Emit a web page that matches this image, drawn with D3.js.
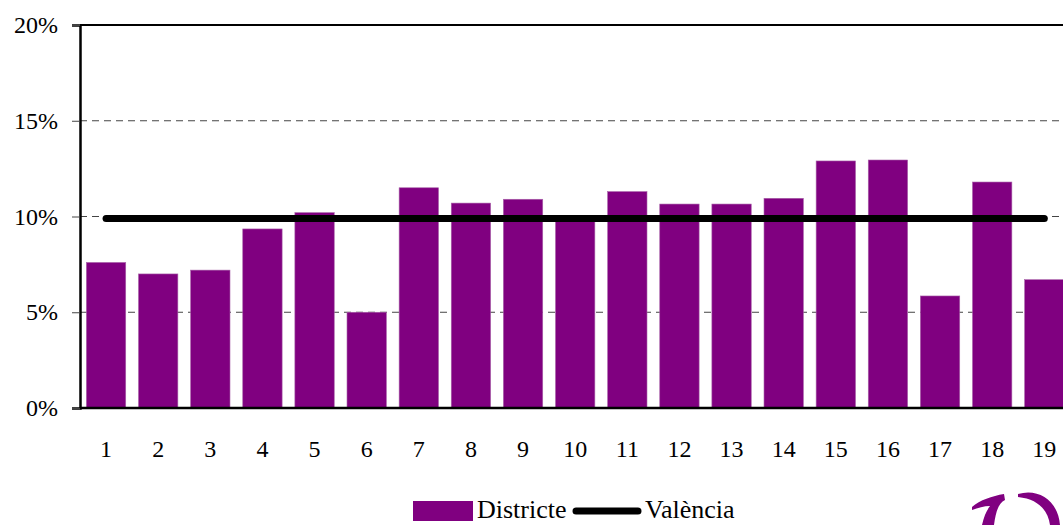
<!DOCTYPE html>
<html>
<head>
<meta charset="utf-8">
<script src="https://cdn.jsdelivr.net/npm/d3@7"></script>
<style>
  body { margin: 0; background: #fff; }
  svg { display: block; }
  text { font-family: "Liberation Serif", "Times New Roman", serif; fill: #000; }
</style>
</head>
<body>
<div id="graph"></div>
<script>
// data
var districts = ["1","2","3","4","5","6","7","8","9","10","11","12","13","14","15","16","17","18","19"];
var districtValues = [7.6, 7.0, 7.2, 9.35, 10.2, 5.0, 11.5, 10.7, 10.9, 10.0, 11.3, 10.65, 10.65, 10.95, 12.9, 12.95, 5.85, 11.8, 6.7];
var valenciaValue = 9.9;
var yTicks = [0, 5, 10, 15, 20];
var legendLabels = ["Districte", "València"];

var w = 1063, h = 525;
var vis = d3.select("#graph").append("svg").attr("width", w).attr("height", h);

var plotLeft = 80, plotTop = 25, plotBottom = 408;
var x = d3.scaleBand().domain(districts)
    .range([plotLeft, plotLeft + 19 * 52.125])
    .paddingInner(0.245).paddingOuter(0.1225);
var y = d3.scaleLinear().domain([0, 20]).range([plotBottom, plotTop]);

// gridlines (dashed)
vis.selectAll("line.grid")
   .data(yTicks.filter(d => d > 0 && d < 20))
   .enter().append("line")
   .attr("class", "grid")
   .attr("x1", plotLeft).attr("x2", w)
   .attr("y1", d => y(d)).attr("y2", d => y(d))
   .attr("stroke", "#444").attr("stroke-width", 1)
   .attr("stroke-dasharray", "7,5");

// bars
vis.selectAll("rect.bar")
   .data(districtValues)
   .enter().append("rect")
   .attr("class", "bar")
   .attr("x", (d, i) => x(districts[i]))
   .attr("width", x.bandwidth())
   .attr("y", d => y(d))
   .attr("height", d => plotBottom - y(d))
   .attr("fill", "#800080")
   .attr("stroke", "#a860a8").attr("stroke-width", 0.6);

// València line
var first = districts[0], last = districts[districts.length - 1];
vis.append("line")
   .attr("x1", x(first) + x.bandwidth() / 2)
   .attr("x2", x(last) + x.bandwidth() / 2)
   .attr("y1", y(valenciaValue)).attr("y2", y(valenciaValue))
   .attr("stroke", "#000").attr("stroke-width", 7)
   .attr("stroke-linecap", "round");

// frame: top and bottom
vis.append("line").attr("x1", plotLeft).attr("x2", w).attr("y1", plotTop).attr("y2", plotTop)
   .attr("stroke", "#000").attr("stroke-width", 2);
vis.append("line").attr("x1", plotLeft).attr("x2", w).attr("y1", plotBottom).attr("y2", plotBottom)
   .attr("stroke", "#000").attr("stroke-width", 2.5);

// y axis
var yAxis = d3.axisLeft(y).tickValues(yTicks).tickSize(8).tickPadding(14)
    .tickFormat(d => d + "%");
var ya = vis.append("g").attr("transform", "translate(" + plotLeft + ",0)").call(yAxis);
ya.select(".domain").attr("stroke", "#000").attr("stroke-width", 2.5);
ya.selectAll(".tick line").attr("stroke", "#444");
ya.selectAll("text").style("font-size", "24px").style("font-family", "Liberation Serif");

// x labels
var xAxis = d3.axisBottom(x).tickSize(0).tickPadding(32);
var xa = vis.append("g").attr("transform", "translate(0," + plotBottom + ")").call(xAxis);
xa.select(".domain").remove();
xa.selectAll("text").style("font-size", "24px").style("font-family", "Liberation Serif");

// legend
var lg = vis.append("g");
lg.append("rect").attr("x", 413).attr("y", 501).attr("width", 60).attr("height", 20)
  .attr("fill", "#800080");
lg.append("text").attr("x", 477).attr("y", 518).style("font-size", "26px").text(legendLabels[0]);
lg.append("line").attr("x1", 576).attr("x2", 638).attr("y1", 511).attr("y2", 511)
  .attr("stroke", "#000").attr("stroke-width", 7).attr("stroke-linecap", "round");
lg.append("text").attr("x", 645).attr("y", 518).style("font-size", "26px").text(legendLabels[1]);

// logo fragment, bottom right
var logo = vis.append("g").attr("fill", "#800080");
logo.append("path")
  .attr("d", "M972,507 C980,500 992,496 1004,494 L1005,500 C999,503 996,510 994,525 L982,525 C984,516 987,510 990,506 C984,506 978,508 972,510 Z");
logo.append("path")
  .attr("d", "M1018,494 C1038,488 1058,500 1060,525 L1050,525 C1048,510 1038,499 1018,497 Z");
</script>
</body>
</html>
